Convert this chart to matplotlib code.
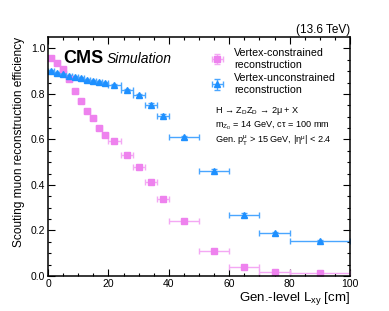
import numpy as np
import matplotlib.pyplot as plt

plt.rcParams['font.family'] = ['Liberation Sans', 'DejaVu Sans']
plt.rcParams['mathtext.fontset'] = 'custom'
plt.rcParams['mathtext.rm'] = 'Liberation Sans'
plt.rcParams['mathtext.it'] = 'Liberation Sans:italic'

# bin edges (cm)
edges = [0, 2, 4, 6, 8, 10, 12, 14, 16, 18, 20, 24, 28, 32, 36, 40, 50, 60, 70, 80, 100]

eff_constrained = [0.957, 0.935, 0.908, 0.864, 0.815, 0.768, 0.727, 0.692, 0.649, 0.618,
                   0.593, 0.532, 0.480, 0.411, 0.338, 0.242, 0.111, 0.041, 0.019, 0.012]
err_constrained = [0.004, 0.004, 0.005, 0.005, 0.005, 0.006, 0.006, 0.006, 0.006, 0.006,
                   0.005, 0.006, 0.006, 0.006, 0.006, 0.005, 0.005, 0.004, 0.003, 0.003]

eff_unconstrained = [0.902, 0.891, 0.888, 0.879, 0.873, 0.870, 0.862, 0.857, 0.851, 0.847,
                     0.840, 0.818, 0.794, 0.753, 0.705, 0.610, 0.462, 0.268, 0.188, 0.154]
err_unconstrained = [0.004, 0.004, 0.004, 0.004, 0.004, 0.004, 0.005, 0.005, 0.005, 0.005,
                     0.005, 0.005, 0.006, 0.006, 0.006, 0.006, 0.007, 0.007, 0.007, 0.006]

edges = np.array(edges)
centers = (edges[1:] + edges[:-1]) / 2
halfw = (edges[1:] - edges[:-1]) / 2

pink = '#ee82ee'
blue = '#1e90ff'

fig = plt.figure(figsize=(3.89, 3.11), dpi=100)
ax = fig.add_axes([0.1234, 0.1125, 0.7766, 0.7685])

ax.errorbar(centers, eff_constrained, xerr=halfw, yerr=err_constrained, fmt='s',
            color=pink, ecolor='#f4a8f4', ms=4, elinewidth=1, capsize=2, capthick=1,
            label='Vertex-constrained\nreconstruction')
ax.errorbar(centers, eff_unconstrained, xerr=halfw, yerr=err_unconstrained, fmt='^',
            color=blue, ecolor='#4aa6ff', ms=4.5, elinewidth=1, capsize=2, capthick=1,
            label='Vertex-unconstrained\nreconstruction')

ax.set_xlim(0, 100)
ax.set_ylim(0, 1.05)
ax.set_xticks(np.arange(0, 101, 20))
ax.set_xticks(np.arange(0, 101, 5), minor=True)
ax.set_yticks(np.arange(0, 1.01, 0.2))
ax.set_yticks(np.arange(0, 1.05, 0.05), minor=True)
ax.set_yticklabels(['0.0', '0.2', '0.4', '0.6', '0.8', '1.0'])
ax.tick_params(which='both', direction='in', top=True, right=True, labelsize=7.5, pad=2)
ax.tick_params(which='major', length=5, width=0.8)
ax.tick_params(which='minor', length=2.5, width=0.8)
for s in ax.spines.values():
    s.set_linewidth(1.1)

ax.set_xlabel('Gen.-level L$_{\\mathrm{xy}}$ [cm]', fontsize=9.5, ha='right', x=1.0, labelpad=1)
ax.set_ylabel('Scouting muon reconstruction efficiency', fontsize=8.6, ha='right', y=1.0, labelpad=4)

ax.text(0.05, 0.892, 'CMS', transform=ax.transAxes, fontsize=13, fontweight='bold')
ax.text(0.193, 0.892, 'Simulation', transform=ax.transAxes, fontsize=10, style='italic')
ax.text(1.0, 1.015, '(13.6 TeV)', transform=ax.transAxes, fontsize=8.5, ha='right')

ax.legend(loc='upper left', bbox_to_anchor=(0.515, 0.985), frameon=False, fontsize=7.7,
          handlelength=1.2, handletextpad=0.95, labelspacing=0.35, borderpad=0.2)

info = ('H → Z$_{\\mathrm{D}}$Z$_{\\mathrm{D}}$ → 2μ + X\n'
        'm$_{\\mathrm{Z_D}}$ = 14 GeV, cτ = 100 mm\n'
        'Gen. p$_{\\mathrm{T}}^{\\mathrm{μ}}$ > 15 GeV, |η$^{\\mathrm{μ}}$| < 2.4')
ax.text(0.552, 0.715, info, transform=ax.transAxes, fontsize=6.6, va='top', linespacing=1.25)

fig.savefig('out.png', dpi=100)
